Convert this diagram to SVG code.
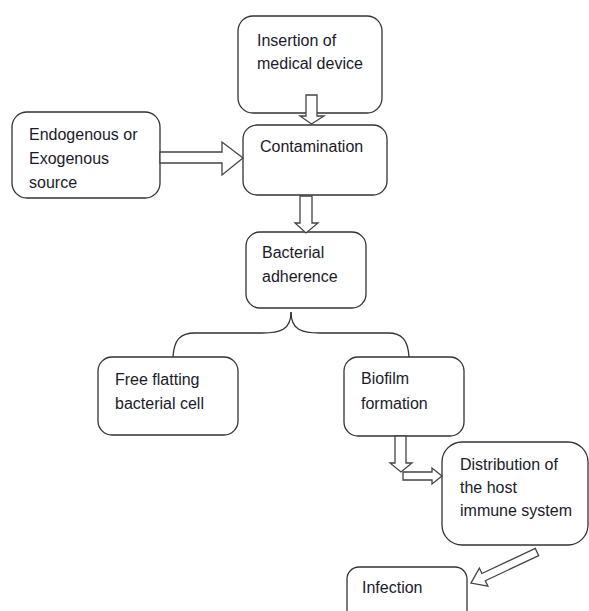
<svg xmlns="http://www.w3.org/2000/svg" width="589" height="611" viewBox="0 0 589 611">
<style>
.box{fill:#fff;stroke:#333;stroke-width:1.3}
.arr{fill:#fff;stroke:#444;stroke-width:1.3;stroke-linejoin:miter}
.line{fill:none;stroke:#333;stroke-width:1.3}
text{font-family:"Liberation Sans",Arial,sans-serif;font-size:16px;fill:#1a1a2a}
</style>
<rect width="589" height="611" fill="#fff"/>
<g id="node-insertion">
<rect class="box" x="238" y="16" width="144" height="97" rx="15"/>
<text x="257" y="46">Insertion of</text>
<text x="257" y="69">medical device</text>
</g>
<g id="node-source">
<rect class="box" x="12" y="112" width="148" height="86" rx="15"/>
<text x="29" y="140">Endogenous or</text>
<text x="29" y="164">Exogenous</text>
<text x="29" y="188">source</text>
</g>
<g id="node-contamination">
<rect class="box" x="243" y="125" width="144" height="70" rx="14"/>
<text x="260" y="152">Contamination</text>
</g>
<g id="node-adherence">
<rect class="box" x="246" y="232" width="120" height="76" rx="14"/>
<text x="262" y="258">Bacterial</text>
<text x="262" y="282">adherence</text>
</g>
<g id="node-free">
<rect class="box" x="98" y="357" width="140" height="78" rx="14"/>
<text x="115" y="385">Free flatting</text>
<text x="115" y="409">bacterial cell</text>
</g>
<g id="node-biofilm">
<rect class="box" x="344" y="357" width="120" height="79" rx="14"/>
<text x="361" y="384">Biofilm</text>
<text x="361" y="409">formation</text>
</g>
<g id="node-distribution">
<rect class="box" x="442" y="442" width="146" height="103" rx="20"/>
<text x="460" y="470">Distribution of</text>
<text x="460" y="493">the host</text>
<text x="460" y="516">immune system</text>
</g>
<g id="node-infection">
<rect class="box" x="347" y="567" width="120" height="60" rx="12"/>
<text x="362" y="593">Infection</text>
</g>
<g id="connectors">
<path class="arr" d="M306,95 H317 V116 H324 L311.5,124 L300,116 H306 Z"/>
<path class="arr" d="M160,152 H222 V142 L243,158 L222,175 V163 H160 Z"/>
<path class="arr" d="M300,196 H312 V223 H318 L306,233 L295,223 H300 Z"/>
<path class="line" d="M291,312 C291,330 280,333 262,333 H195 C180,333 174,340 173,357"/>
<path class="line" d="M291,312 C291,330 302,333 320,333 H388 C402,333 408,340 409,357"/>
<path class="arr" d="M395,436 H406 V463 H412 L401,472 L390,463 H395 Z"/>
<path class="arr" d="M403,472 H432 V468 L442,476 L432,484 V480 H403 Z"/>
<path class="arr" transform="translate(537,552) rotate(154.8)" d="M0,-4 H59 V-10 L73,0 L59,10 V4 H0 Z"/>
</g>
</svg>
